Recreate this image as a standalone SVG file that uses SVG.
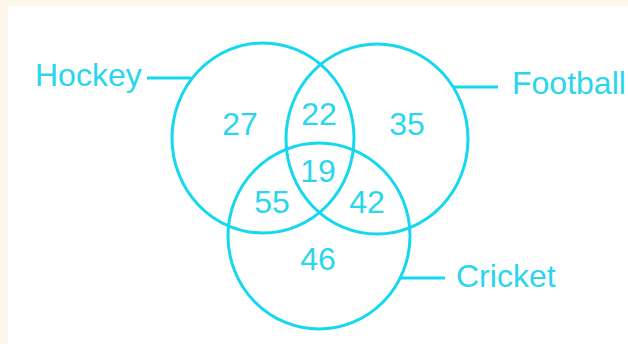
<svg xmlns="http://www.w3.org/2000/svg" width="628" height="344" viewBox="0 0 628 344">
<style>
.set{fill:none;stroke:#14d8ee;stroke-width:3}
.lead{stroke:#14d8ee;stroke-width:3}
.lbl{font-family:"Liberation Sans",Arial,sans-serif;font-size:32px;fill:#2ad6ec}
.num{font-family:"Liberation Sans",Arial,sans-serif;font-size:32px;fill:#2ad6ec;text-anchor:middle}
</style>
<rect x="0" y="0" width="628" height="344" fill="#fdf6ea"/>
<rect x="8" y="6" width="620" height="338" fill="#ffffff"/>
<g id="hockey">
<ellipse class="set" cx="263" cy="138" rx="91" ry="95"/>
<text class="lbl" x="35" y="86">Hockey</text>
</g>
<g id="football">
<ellipse class="set" cx="377" cy="139" rx="91" ry="95"/>
<text class="lbl" x="512" y="94">Football</text>
</g>
<g id="cricket">
<ellipse class="set" cx="319" cy="236" rx="91" ry="93"/>
<text class="lbl" x="456" y="287">Cricket</text>
</g>
<g id="connectors">
<line class="lead" x1="147" y1="78" x2="191" y2="78"/>
<line class="lead" x1="454" y1="87" x2="498" y2="87"/>
<line class="lead" x1="401" y1="278" x2="445" y2="278"/>
</g>
<g id="counts">
<text class="num" x="240" y="135">27</text>
<text class="num" x="319" y="125">22</text>
<text class="num" x="407" y="135">35</text>
<text class="num" x="318" y="182">19</text>
<text class="num" x="272" y="213">55</text>
<text class="num" x="367" y="213">42</text>
<text class="num" x="318" y="270">46</text>
</g>
</svg>
